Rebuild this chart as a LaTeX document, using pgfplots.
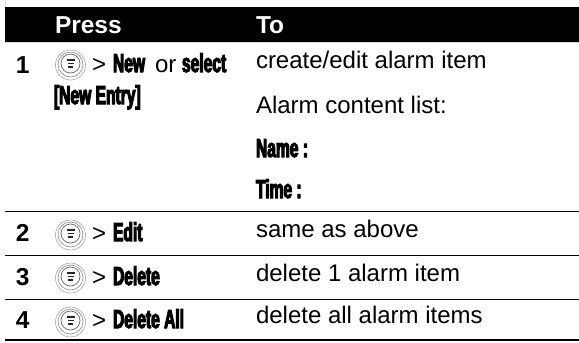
\documentclass[border=0pt]{standalone}
\usepackage{pgfplots}
\pgfplotsset{compat=1.18}
\usepackage{fontspec}
\setmainfont{Liberation Sans}
\newfontfamily\imp[FakeStretch=0.6,FakeBold=4,BoldFont={Liberation Sans Bold}]{Liberation Sans}
\newcommand{\tb}[1]{{\fontsize{24.5}{24.5}\selectfont\bfseries #1}}
\newcommand{\tn}[1]{{\fontsize{24}{24}\selectfont #1}}
\newcommand{\ti}[1]{{\fontsize{26}{26}\imp\bfseries #1}}
\newcommand{\ts}[1]{{\fontsize{26}{26}\imp\bfseries #1}}
\tikzset{tx/.style={inner sep=0pt, outer sep=0pt, anchor=base west, text=black}}
\begin{document}
\begin{tikzpicture}
\begin{axis}[
  scale only axis, width=579pt, height=343pt,
  xmin=0, xmax=579, ymin=0, ymax=343, y dir=reverse,
  hide axis, clip=false,
]
\path[use as bounding box] (axis cs:0,0) rectangle (axis cs:579,343);
% header
\addplot[fill=black, draw=none] coordinates {(5,7) (579,7) (579,42) (5,42)} \closedcycle;
% rules
\addplot[black, line width=1pt] coordinates {(5,211) (579,211)};
\addplot[black, line width=1pt] coordinates {(5,255) (579,255)};
\addplot[black, line width=1pt] coordinates {(5,299) (579,299)};
\addplot[black, line width=2pt] coordinates {(5,340) (579,340)};
% icon rings
\addplot[only marks, mark=o, mark size=15pt, mark options={draw=black!35, line width=.6pt}] coordinates {(70.5,65) (70.5,235) (70.5,278) (70.5,322)};
\addplot[only marks, mark=o, mark size=12.5pt, mark options={draw=black!45, line width=.6pt}] coordinates {(70.5,64.5) (70.5,234.5) (70.5,277.5) (70.5,321.5)};
\addplot[only marks, mark=o, mark size=9.5pt, mark options={draw=black!60, line width=.7pt}] coordinates {(70.5,63.5) (70.5,233.5) (70.5,276.5) (70.5,320.5)};
% icon bars
\addplot[only marks, mark=-, mark size=4pt, mark options={draw=black!85, line width=1.5pt}] coordinates {(70.5,60) (70.5,230) (70.5,273) (70.5,317)};
\addplot[only marks, mark=-, mark size=3pt, mark options={draw=black!85, line width=1.5pt}] coordinates {(70.5,63.5) (70.5,233.5) (70.5,276.5) (70.5,320.5)};
\addplot[only marks, mark=-, mark size=2.5pt, mark options={draw=black!85, line width=1.5pt}] coordinates {(70.5,67) (70.5,237) (70.5,280) (70.5,324)};
% text
\node[tx,text=white] at (axis cs:55,33) {\tb{Press}};
\node[tx,text=white] at (axis cs:256,33) {\tb{To}};
\node[tx] at (axis cs:16,73) {\tb{1}};
\node[tx] at (axis cs:16,241) {\tb{2}};
\node[tx] at (axis cs:16,285) {\tb{3}};
\node[tx] at (axis cs:16,328) {\tb{4}};
\node[tx] at (axis cs:92,72) {\tn{>}};
\node[tx] at (axis cs:92,241) {\tn{>}};
\node[tx] at (axis cs:92,285) {\tn{>}};
\node[tx] at (axis cs:92,328) {\tn{>}};
\node[tx] at (axis cs:113,72) {\ti{New}};
\node[tx] at (axis cs:155,72) {\tn{or}};
\node[tx] at (axis cs:182,72) {\ti{select}};
\node[tx] at (axis cs:54,104) {\ti{[New Entry]}};
\node[tx] at (axis cs:113,241) {\ti{Edit}};
\node[tx] at (axis cs:113,285) {\ti{Delete}};
\node[tx] at (axis cs:113,328) {\ti{Delete All}};
\node[tx] at (axis cs:256,68) {\tn{create/edit alarm item}};
\node[tx] at (axis cs:256,113) {\tn{Alarm content list:}};
\node[tx] at (axis cs:256,157) {\ts{Name :}};
\node[tx] at (axis cs:256,198) {\ts{Time :}};
\node[tx] at (axis cs:256,237) {\tn{same as above}};
\node[tx] at (axis cs:256,281) {\tn{delete 1 alarm item}};
\node[tx] at (axis cs:256,323) {\tn{delete all alarm items}};
\end{axis}
\end{tikzpicture}
\end{document}
